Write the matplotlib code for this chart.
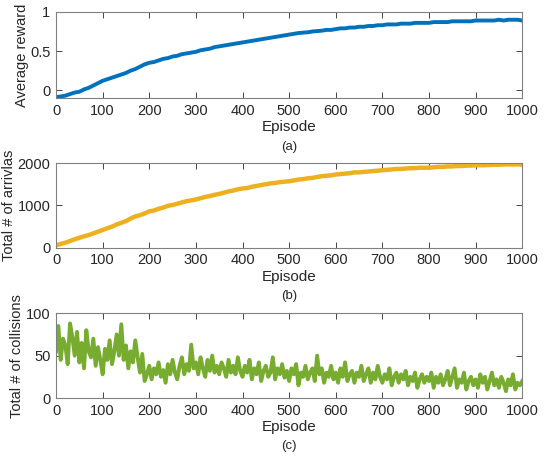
import matplotlib
matplotlib.use('Agg')
import matplotlib.pyplot as plt

plt.rcParams['font.family'] = ['Liberation Sans', 'DejaVu Sans']

# episodes 0..1000, step 10 for smooth curves
ep10 = list(range(0, 1001, 10))
reward = [-0.09, -0.08, -0.07, -0.05, -0.03, -0.02, 0.01, 0.03, 0.06, 0.09,
          0.12, 0.14, 0.16, 0.18, 0.20, 0.22, 0.25, 0.27, 0.30, 0.33,
          0.35, 0.36, 0.38, 0.40, 0.41, 0.43, 0.44, 0.46, 0.47, 0.48,
          0.49, 0.51, 0.52, 0.53, 0.55, 0.56, 0.57, 0.58, 0.59, 0.60,
          0.61, 0.62, 0.63, 0.64, 0.65, 0.66, 0.67, 0.68, 0.69, 0.70,
          0.71, 0.72, 0.73, 0.735, 0.74, 0.75, 0.755, 0.76, 0.77, 0.77,
          0.78, 0.79, 0.79, 0.80, 0.80, 0.81, 0.81, 0.82, 0.82, 0.83,
          0.83, 0.84, 0.84, 0.84, 0.85, 0.85, 0.85, 0.86, 0.86, 0.86,
          0.86, 0.87, 0.87, 0.87, 0.87, 0.88, 0.88, 0.88, 0.88, 0.88,
          0.89, 0.89, 0.89, 0.89, 0.89, 0.90, 0.89, 0.90, 0.90, 0.90, 0.89]

arrivals = [60, 90, 120, 160, 200, 235, 270, 300, 340, 380,
            420, 460, 500, 550, 590, 630, 690, 740, 770, 810,
            860, 880, 920, 950, 990, 1010, 1040, 1070, 1100, 1120,
            1140, 1170, 1200, 1220, 1250, 1270, 1300, 1330, 1350, 1380,
            1400, 1410, 1440, 1460, 1480, 1500, 1520, 1530, 1550, 1560,
            1570, 1590, 1610, 1620, 1640, 1650, 1670, 1690, 1700, 1710,
            1730, 1740, 1750, 1760, 1780, 1780, 1790, 1800, 1810, 1820,
            1830, 1840, 1850, 1860, 1860, 1870, 1880, 1880, 1890, 1890,
            1890, 1900, 1910, 1910, 1920, 1920, 1930, 1930, 1940, 1940,
            1945, 1950, 1950, 1955, 1960, 1960, 1965, 1970, 1965, 1970, 1960]

# collisions, step 5
ep5 = list(range(0, 1001, 5))
collisions = [55, 85, 45, 70, 62, 40, 88, 72, 50, 78,
              42, 65, 35, 80, 55, 48, 70, 38, 60, 45,
              28, 58, 45, 68, 40, 55, 75, 50, 87, 45,
              62, 35, 55, 42, 68, 48, 30, 52, 20, 28,
              38, 22, 35, 28, 42, 25, 33, 18, 40, 28,
              45, 30, 22, 38, 48, 28, 40, 32, 63, 35,
              42, 28, 48, 35, 25, 45, 32, 50, 30, 38,
              28, 42, 35, 25, 45, 30, 38, 28, 48, 32,
              25, 38, 30, 45, 22, 35, 28, 42, 20, 32,
              38, 25, 30, 48, 22, 35, 28, 40, 24, 32,
              20, 35, 28, 40, 15, 30, 25, 38, 22, 30,
              35, 20, 50, 28, 35, 18, 30, 25, 38, 22,
              30, 18, 35, 25, 42, 20, 28, 32, 18, 30,
              25, 38, 20, 28, 35, 18, 30, 22, 38, 25,
              18, 28, 22, 35, 15, 25, 30, 18, 28, 22,
              32, 15, 25, 20, 30, 12, 22, 28, 18, 25,
              20, 30, 12, 25, 18, 28, 15, 22, 32, 15,
              25, 35, 12, 22, 18, 30, 10, 20, 25, 15,
              22, 12, 28, 18, 25, 10, 20, 30, 15, 22,
              12, 25, 18, 8, 22, 15, 28, 10, 18, 15,
              20]

xticks = list(range(0, 1001, 100))

fig = plt.figure(figsize=(5.44, 4.58), dpi=100)

panels = [
    ([0.103, 0.786, 0.857, 0.188], ep10, reward, '#0072BD', 2.8, 'Average reward',
     (-0.1, 1), [0, 0.5, 1], ['0', '0.5', '1'], '(a)'),
    ([0.103, 0.459, 0.857, 0.185], ep10, arrivals, '#EDB120', 3.2, 'Total # of arrivlas',
     (0, 2000), [0, 1000, 2000], ['0', '1000', '2000'], '(b)'),
    ([0.103, 0.131, 0.857, 0.185], ep5, collisions, '#77AC30', 2.8, 'Total # of collisions',
     (0, 100), [0, 50, 100], ['0', '50', '100'], '(c)'),
]

for pos, x, y, col, lw, ylab, ylim, yt, ytl, tag in panels:
    ax = fig.add_axes(pos)
    ax.plot(x, y, color=col, linewidth=lw)
    ax.set_xlim(0, 1000)
    ax.set_ylim(*ylim)
    ax.set_xticks(xticks)
    ax.set_yticks(yt)
    ax.set_yticklabels(ytl)
    ax.tick_params(direction='in', top=True, right=True, length=4,
                   labelsize=10.5, colors='#262626', width=0.6, pad=4)
    for s in ax.spines.values():
        s.set_color('#808080')
        s.set_linewidth(0.8)
    ax.set_ylabel(ylab, fontsize=10.5, color='#262626', labelpad=1)
    ax.set_xlabel('Episode', fontsize=11, color='#262626', labelpad=2)
    ax.text(0.5, -0.5, tag, transform=ax.transAxes, ha='center', va='top',
            fontsize=9.5, color='#262626')

fig.savefig('out.png', dpi=100)
